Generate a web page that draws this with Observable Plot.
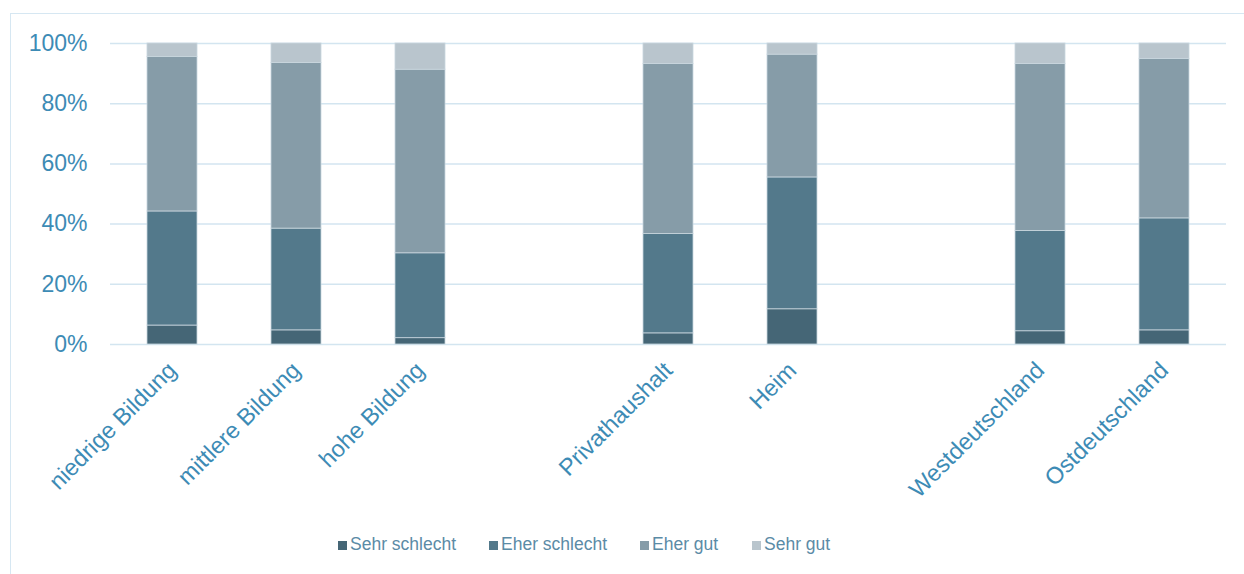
<!DOCTYPE html>
<html>
<head>
<meta charset="utf-8">
<script src="https://cdn.jsdelivr.net/npm/d3@7"></script>
<script src="https://cdn.jsdelivr.net/npm/@observablehq/plot@0.6"></script>
<style>
  html, body { margin: 0; padding: 0; background: #fff; }
  #wrap { position: relative; width: 1244px; height: 574px; overflow: hidden; font-family: "Liberation Sans", Arial, sans-serif; }
  #frame { position: absolute; left: 10px; top: 13px; width: 1260px; height: 600px; border: 1.5px solid #d6e7f2; box-sizing: border-box; }
  #chart { position: absolute; left: 0; top: 0; }
  #legend { position: absolute; left: 0; top: 534px; width: 1244px; height: 22px; font-size: 17.5px; color: #5b8ba6; }
  #legend .item { position: absolute; top: 0; display: flex; align-items: center; white-space: nowrap; }
  #legend .sw { width: 9px; height: 9px; margin-right: 3px; margin-top: 1px; }
</style>
</head>
<body>
<div id="wrap">
  <div id="frame"></div>
  <div id="chart"></div>
  <div id="legend"></div>
</div>
<script>
// Categories (with two empty spacer slots)
const groups = ["niedrige Bildung", "mittlere Bildung", "hohe Bildung", "Privathaushalt", "Heim", "Westdeutschland", "Ostdeutschland"];
const xDomain = ["niedrige Bildung", "mittlere Bildung", "hohe Bildung", " ", "Privathaushalt", "Heim", "  ", "Westdeutschland", "Ostdeutschland"];
const levels = ["Sehr schlecht", "Eher schlecht", "Eher gut", "Sehr gut"];
const colors = ["#456676", "#53798b", "#869ca8", "#b9c5cd"];

// Series values (percent)
const sehrSchlecht = [6.3, 4.7, 2.1, 3.7, 11.7, 4.4, 4.7];
const eherSchlecht = [37.9, 33.8, 28.2, 33.0, 43.8, 33.3, 37.2];
const eherGut      = [51.3, 55.0, 61.0, 56.5, 40.8, 55.5, 53.0];
const sehrGut      = [4.5, 6.5, 8.7, 6.8, 3.7, 6.8, 5.1];

const yTicks = [0, 20, 40, 60, 80, 100];

const series = [sehrSchlecht, eherSchlecht, eherGut, sehrGut];
const data = [];
groups.forEach((g, i) => {
  series.forEach((s, j) => data.push({group: g, level: levels[j], value: s[i]}));
});

const H = 510;
const chart = Plot.plot({
  width: 1244,
  height: H,
  marginLeft: 110,
  marginRight: 18,
  marginTop: 43,
  marginBottom: H - 344,
  style: {fontFamily: "'Liberation Sans', Arial, sans-serif", fontSize: "23px", color: "#3d8bb5", background: "transparent"},
  x: {domain: xDomain, paddingInner: 0.6, paddingOuter: 0.3, label: null},
  y: {domain: [0, 100], label: null},
  color: {domain: levels, range: colors},
  marks: [
    Plot.ruleY(yTicks, {stroke: "#d3e5f0", strokeWidth: 1.5}),
    Plot.barY(data, {x: "group", y: "value", fill: "level", stroke: "#c9d6de", strokeWidth: 0.8}),
    Plot.axisY(yTicks, {tickSize: 0, tickPadding: 23, tickFormat: d => d + "%", fontSize: 23, label: null}),
    Plot.axisX({tickSize: 0, tickPadding: 22, tickRotate: -45, fontSize: 23.5, tickFormat: d => d.trim(), label: null})
  ]
});
document.getElementById("chart").appendChild(chart);

const legendX = [338, 489, 640, 752];
const legend = document.getElementById("legend");
levels.forEach((l, i) => {
  const item = document.createElement("div");
  item.className = "item";
  item.style.left = legendX[i] + "px";
  const sw = document.createElement("span");
  sw.className = "sw";
  sw.style.background = colors[i];
  const t = document.createElement("span");
  t.textContent = l;
  item.appendChild(sw);
  item.appendChild(t);
  legend.appendChild(item);
});
</script>
</body>
</html>
